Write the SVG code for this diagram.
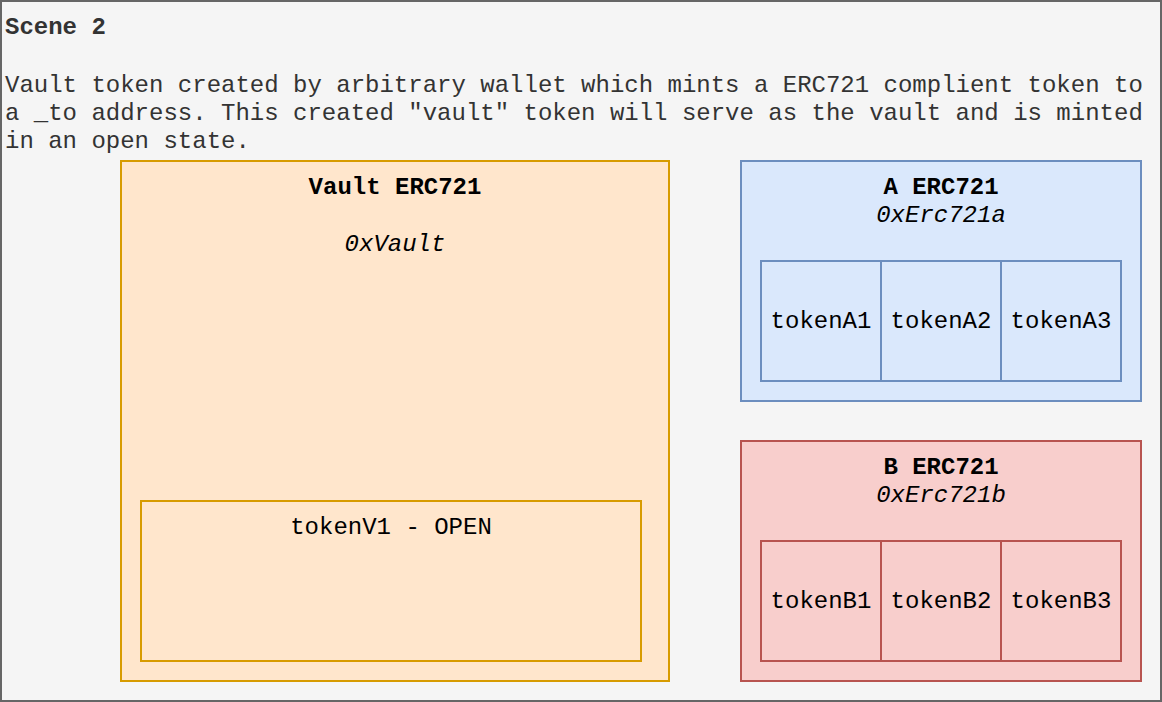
<svg xmlns="http://www.w3.org/2000/svg" width="1162" height="702" viewBox="0 0 1162 702">
<style>
text{font-family:"Liberation Mono","Courier New",monospace;font-size:24px;}
.scene{fill:#333333;}
.t{fill:#000000;text-anchor:middle;}
.b{font-weight:bold;}
.i{font-style:italic;}
.vault{fill:#ffe6cc;stroke:#d79b00;stroke-width:2;}
.a{fill:#dae8fc;stroke:#6c8ebf;stroke-width:2;}
.bb{fill:#f8cecc;stroke:#b85450;stroke-width:2;}
</style>
<g id="scene">
<rect x="1" y="1" width="1160" height="700" fill="#f5f5f5" stroke="#666666" stroke-width="2"/>
<text class="scene b" x="5" y="34">Scene 2</text>
<text class="scene" x="5" y="92">Vault token created by arbitrary wallet which mints a ERC721 complient token to</text>
<text class="scene" x="5" y="120">a _to address. This created "vault" token will serve as the vault and is minted</text>
<text class="scene" x="5" y="148">in an open state.</text>
</g>
<g id="vault">
<rect class="vault" x="121" y="161" width="548" height="520"/>
<text class="t b" x="395" y="194">Vault ERC721</text>
<text class="t i" x="395" y="251">0xVault</text>
</g>
<g id="tokenV1">
<rect class="vault" x="141" y="501" width="500" height="160"/>
<text class="t" x="391" y="534">tokenV1 - OPEN</text>
</g>
<g id="erc721a">
<rect class="a" x="741" y="161" width="400" height="240"/>
<text class="t b" x="941" y="194">A ERC721</text>
<text class="t i" x="941" y="222">0xErc721a</text>
</g>
<g id="tokenA1"><rect class="a" x="761" y="261" width="120" height="120"/><text class="t" x="821" y="328">tokenA1</text></g>
<g id="tokenA2"><rect class="a" x="881" y="261" width="120" height="120"/><text class="t" x="941" y="328">tokenA2</text></g>
<g id="tokenA3"><rect class="a" x="1001" y="261" width="120" height="120"/><text class="t" x="1061" y="328">tokenA3</text></g>
<g id="erc721b">
<rect class="bb" x="741" y="441" width="400" height="240"/>
<text class="t b" x="941" y="474">B ERC721</text>
<text class="t i" x="941" y="502">0xErc721b</text>
</g>
<g id="tokenB1"><rect class="bb" x="761" y="541" width="120" height="120"/><text class="t" x="821" y="608">tokenB1</text></g>
<g id="tokenB2"><rect class="bb" x="881" y="541" width="120" height="120"/><text class="t" x="941" y="608">tokenB2</text></g>
<g id="tokenB3"><rect class="bb" x="1001" y="541" width="120" height="120"/><text class="t" x="1061" y="608">tokenB3</text></g>
<g id="connectors"></g>
</svg>
